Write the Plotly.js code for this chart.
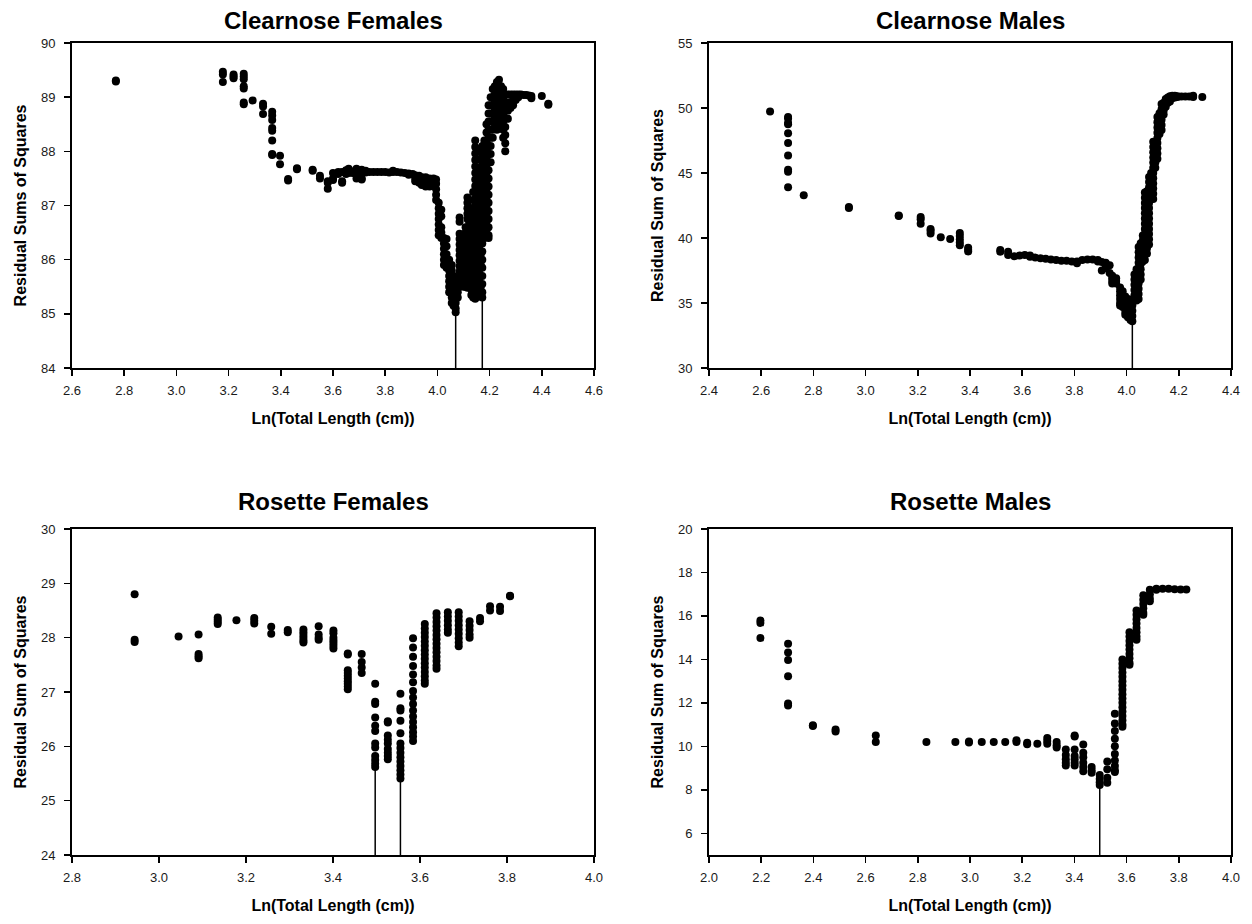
<!DOCTYPE html>
<html>
<head>
<meta charset="utf-8">
<script src="https://cdn.plot.ly/plotly-3.0.1.min.js"></script>
<style>
  html, body { margin: 0; padding: 0; background: #ffffff; }
  #chart { width: 1252px; height: 924px; }
</style>
</head>
<body>
<div id="chart"></div>
<script>
// ---------------- Panel titles and axis labels ----------------
const panelTitles = ["Clearnose Females", "Clearnose Males", "Rosette Females", "Rosette Males"];
const xAxisTitle = "Ln(Total Length (cm))";
const yAxisTitles = ["Residual Sums of Squares", "Residual Sum of Squares", "Residual Sum of Squares", "Residual Sum of Squares"];

// ---------------- Clearnose Females ----------------
const cfXRange = [2.6, 4.6];
const cfYRange = [84, 90];
const cfColX = [2.768, 3.178, 3.219, 3.258, 3.292, 3.332, 3.367, 3.397, 3.428, 3.462, 3.522, 3.55, 3.58, 3.60, 3.62, 3.635, 3.65, 3.66, 3.675, 3.69, 3.70, 3.71, 3.725, 3.74, 3.755, 3.77, 3.785, 3.80, 3.815, 3.83, 3.845, 3.86, 3.875, 3.89, 3.905, 3.915, 3.93, 3.94, 3.955, 3.97, 3.985, 3.995, 4.005, 4.015, 4.025, 4.035, 4.045, 4.055, 4.062, 4.07, 4.078, 4.085, 4.092, 4.1, 4.108, 4.115, 4.122, 4.13, 4.137, 4.145, 4.152, 4.16, 4.166, 4.172, 4.18, 4.188, 4.196, 4.204, 4.212, 4.22, 4.228, 4.236, 4.244, 4.252, 4.26, 4.27, 4.28, 4.29, 4.30, 4.31, 4.32, 4.33, 4.34, 4.35, 4.36, 4.40, 4.425];
const cfColY = [
  [89.31, 89.29],
  [89.47, 89.42, 89.28],
  [89.42, 89.38, 89.35],
  [89.43, 89.38, 89.33, 89.2, 89.16, 88.9, 88.87],
  [88.94],
  [88.88, 88.83, 88.69],
  [88.73, 88.66, 88.58, 88.43, 88.38, 88.2, 87.95, 87.93],
  [87.92, 87.76],
  [87.49, 87.46],
  [87.69, 87.67],
  [87.66, 87.64],
  [87.55, 87.5],
  [87.45, 87.42, 87.31],
  [87.6, 87.5, 87.47],
  [87.62, 87.58],
  [87.62, 87.45, 87.42],
  [87.65, 87.58],
  [87.68, 87.6],
  [87.63, 87.6],
  [87.68, 87.58, 87.5],
  [87.62, 87.55],
  [87.66, 87.5, 87.48],
  [87.64, 87.61],
  [87.62],
  [87.62],
  [87.62],
  [87.62],
  [87.62],
  [87.61],
  [87.64, 87.62],
  [87.62],
  [87.61],
  [87.6],
  [87.59, 87.57],
  [87.58],
  [87.56, 87.5, 87.45],
  [87.55, 87.48, 87.42],
  [87.52, 87.45, 87.38],
  [87.52, 87.45, 87.38, 87.35],
  [87.5, 87.42, 87.35],
  [87.5, 87.43, 87.36],
  [87.48, 87.4, 87.3, 87.2, 87.1],
  [87.05, 86.95, 86.85, 86.75, 86.65, 86.55, 86.45],
  [86.92, 86.8, 86.6, 86.5, 86.4],
  [86.4, 86.3, 86.2, 86.1, 86.0, 85.9],
  [86.38, 86.25, 86.1, 85.95, 85.85],
  [86.0, 85.9, 85.8, 85.7, 85.6, 85.5, 85.4],
  [85.9, 85.8, 85.7, 85.6, 85.5, 85.4, 85.3, 85.2],
  [85.7, 85.55, 85.4, 85.25, 85.15],
  [85.6, 85.45, 85.3, 85.2, 85.1, 85.03],
  [85.6, 85.5, 85.4, 85.3],
  [86.78, 86.7, 86.48, 86.38, 86.28, 86.18, 86.08, 85.98, 85.88, 85.78, 85.68, 85.58, 85.5],
  [86.4, 86.3, 86.2, 86.1, 86.0, 85.9, 85.8, 85.7, 85.6],
  [86.3, 86.2, 86.1, 86.0, 85.9, 85.8, 85.7, 85.6, 85.5],
  [86.6, 86.5, 86.4, 86.3, 86.2, 86.1, 86.0, 85.9, 85.8, 85.7, 85.6, 85.5],
  [87.15, 87.05, 86.95, 86.85, 86.75, 86.6, 86.45, 86.3, 86.15, 86.0, 85.85, 85.7, 85.55, 85.48],
  [86.9, 86.8, 86.7, 86.55, 86.4, 86.25, 86.1, 85.95, 85.8, 85.65, 85.5],
  [86.95, 86.8, 86.65, 86.5, 86.35, 86.2, 86.05, 85.9, 85.75, 85.6, 85.45, 85.35],
  [87.25, 87.1, 86.95, 86.8, 86.65, 86.5, 86.35, 86.2, 86.05, 85.9, 85.75, 85.6, 85.45, 85.3],
  [88.2, 88.08, 87.96, 87.84, 87.72, 87.6, 87.48, 87.36, 87.24, 87.12, 87.0, 86.88, 86.76, 86.64, 86.52, 86.4, 86.28, 86.16, 86.04, 85.92, 85.8, 85.68, 85.56, 85.44, 85.32, 85.28],
  [87.6, 87.45, 87.3, 87.15, 87.0, 86.85, 86.7, 86.55, 86.4, 86.25, 86.1, 85.95, 85.8, 85.65, 85.5, 85.35],
  [88.0, 87.85, 87.7, 87.55, 87.4, 87.25, 87.1, 86.95, 86.8, 86.65, 86.5, 86.35, 86.2, 86.05, 85.9, 85.75, 85.6, 85.45, 85.32],
  [87.5, 87.3, 87.1, 86.9, 86.7, 86.5, 86.3, 86.1, 85.9, 85.7, 85.5, 85.35],
  [88.1, 87.95, 87.8, 87.65, 87.5, 87.35, 87.2, 87.05, 86.9, 86.75, 86.6, 86.45, 86.3, 86.15, 86.0, 85.85, 85.7, 85.55, 85.4, 85.3],
  [88.2, 88.08, 87.96, 87.84, 87.72, 87.6, 87.48, 87.36, 87.24, 87.12, 87.0, 86.88, 86.76, 86.64, 86.52, 86.4],
  [88.5, 88.35, 88.2, 88.05, 87.9, 87.75, 87.6, 87.45, 87.3, 87.15, 87.0, 86.85, 86.7, 86.55, 86.42],
  [88.85, 88.7, 88.55, 88.4, 88.25, 88.1, 87.95, 87.8, 87.65, 87.5, 87.35, 87.2, 87.05, 86.9, 86.75, 86.6, 86.45, 86.4],
  [89.0, 88.85, 88.7, 88.55, 88.4, 88.25, 88.1, 87.95, 87.8],
  [89.15, 89.0, 88.85, 88.7, 88.55, 88.4, 88.25],
  [89.2, 89.05, 88.9, 88.75, 88.6, 88.45],
  [89.28, 89.13, 88.98, 88.83, 88.68, 88.53, 88.4],
  [89.32, 89.17, 89.02, 88.87, 88.72, 88.57, 88.45],
  [89.2, 89.05, 88.9, 88.75, 88.6, 88.45],
  [89.15, 89.0, 88.85, 88.7, 88.55, 88.4, 88.25],
  [89.05, 88.9, 88.75, 88.6, 88.45, 88.3, 88.15, 88.0],
  [89.05, 88.9, 88.75, 88.6],
  [89.05, 88.9, 88.8],
  [89.05, 88.95, 88.85],
  [89.05, 88.95],
  [89.05, 89.0],
  [89.05],
  [89.04],
  [89.04],
  [89.03],
  [89.02, 88.98],
  [89.02],
  [88.88, 88.86]
];
const cfMinX = [4.07, 4.172];
const cfMinY = [85.03, 85.3];

// ---------------- Clearnose Males ----------------
const cmXRange = [2.4, 4.4];
const cmYRange = [30, 55];
const cmColX = [2.634, 2.703, 2.763, 2.936, 3.127, 3.211, 3.249, 3.288, 3.324, 3.361, 3.393, 3.516, 3.546, 3.57, 3.59, 3.61, 3.63, 3.65, 3.67, 3.69, 3.71, 3.73, 3.75, 3.77, 3.79, 3.81, 3.83, 3.85, 3.87, 3.89, 3.905, 3.92, 3.935, 3.945, 3.96, 3.975, 3.985, 3.995, 4.005, 4.015, 4.022, 4.03, 4.038, 4.046, 4.054, 4.062, 4.07, 4.078, 4.086, 4.094, 4.102, 4.11, 4.118, 4.126, 4.134, 4.142, 4.15, 4.158, 4.166, 4.175, 4.185, 4.195, 4.21, 4.225, 4.24, 4.255, 4.29];
const cmColY = [
  [49.74],
  [49.3, 49.2, 48.85, 48.75, 48.05, 47.3, 46.35, 45.25, 45.1, 43.9],
  [43.28],
  [42.38, 42.3],
  [41.74, 41.7],
  [41.62, 41.45, 41.1],
  [40.7, 40.55, 40.35],
  [40.05],
  [39.92],
  [40.38, 40.15, 39.9, 39.65, 39.45],
  [39.25, 39.1, 38.97],
  [39.08, 38.95],
  [38.95, 38.7],
  [38.6],
  [38.65],
  [38.7],
  [38.65, 38.55],
  [38.5],
  [38.45],
  [38.4],
  [38.35],
  [38.3],
  [38.25],
  [38.25],
  [38.2],
  [38.2, 38.05],
  [38.3],
  [38.35],
  [38.35],
  [38.3, 38.2],
  [38.15, 37.5],
  [38.1, 37.9, 37.7],
  [37.9, 37.3],
  [37.1, 36.9, 36.7, 36.5],
  [36.9, 36.7, 36.5],
  [36.2, 35.9, 35.6, 35.3, 35.0, 34.8],
  [35.9, 35.6, 35.3, 35.0, 34.7],
  [35.5, 35.2, 34.9, 34.6, 34.3, 34.1],
  [35.3, 35.0, 34.7, 34.4, 34.1, 33.9],
  [35.1, 34.8, 34.5, 34.2, 33.9, 33.7],
  [35.2, 34.8, 34.4, 34.0, 33.6],
  [37.2, 36.8, 36.4, 36.0, 35.6, 35.2],
  [37.6, 37.2, 36.8, 36.4, 36.0, 35.6, 35.2],
  [39.3, 38.9, 38.5, 38.1, 37.7, 37.3, 36.9, 36.5, 36.1, 35.7, 35.3],
  [39.6, 39.2, 38.8, 38.4, 38.0, 37.6, 37.2, 36.8],
  [40.2, 39.8, 39.4, 39.0, 38.6, 38.2],
  [43.5, 43.1, 42.7, 42.3, 41.9, 41.5, 41.1, 40.7, 40.3, 39.9, 39.5, 39.1, 38.7, 38.3],
  [43.6, 43.2, 42.8, 42.4, 42.0, 41.6, 41.2, 40.8, 40.4, 40.0, 39.6, 39.2, 38.8],
  [44.7, 44.3, 43.9, 43.5, 43.1, 42.7, 42.3, 41.9, 41.5, 41.1, 40.7, 40.3, 39.9, 39.5],
  [45.0, 44.6, 44.2, 43.8, 43.4, 43.0],
  [47.4, 47.0, 46.6, 46.2, 45.8, 45.4, 45.0, 44.6, 44.2, 43.8, 43.4, 43.0],
  [47.4, 47.0, 46.6, 46.2, 45.8, 45.4],
  [49.3, 48.9, 48.5, 48.1, 47.7, 47.3, 46.9, 46.5, 46.1],
  [49.6, 49.2, 48.8, 48.4, 48.0],
  [50.3, 49.9, 49.5, 49.1, 48.7, 48.3],
  [50.4, 50.1, 49.8, 49.5],
  [50.7, 50.4, 50.1],
  [50.8, 50.6, 50.4],
  [50.9, 50.7, 50.5],
  [50.95, 50.75],
  [50.95, 50.8],
  [50.9, 50.85],
  [50.88],
  [50.88],
  [50.88],
  [50.95, 50.85],
  [50.85]
];
const cmMinX = [4.022];
const cmMinY = [33.6];

// ---------------- Rosette Females ----------------
const rfXRange = [2.8, 4.0];
const rfYRange = [24, 30];
const rfColX = [2.944, 3.045, 3.091, 3.135, 3.178, 3.219, 3.258, 3.296, 3.332, 3.367, 3.401, 3.434, 3.466, 3.497, 3.526, 3.555, 3.584, 3.611, 3.638, 3.664, 3.689, 3.714, 3.738, 3.761, 3.784, 3.807];
const rfColY = [
  [28.8, 27.96, 27.92],
  [28.02],
  [28.06, 27.7, 27.66, 27.62],
  [28.37, 28.33, 28.29, 28.25],
  [28.32],
  [28.36, 28.31, 28.26],
  [28.2, 28.07],
  [28.14, 28.1],
  [28.15, 28.1, 28.05, 28.0, 27.95, 27.91],
  [28.21, 28.06, 28.0, 27.96],
  [28.13, 28.08, 28.0, 27.95, 27.9, 27.85, 27.8],
  [27.71, 27.69, 27.4, 27.35, 27.3, 27.25, 27.2, 27.15, 27.1, 27.05],
  [27.7, 27.55, 27.45, 27.35],
  [27.15, 26.82, 26.78, 26.53, 26.38, 26.28, 26.05, 25.98, 25.82, 25.75, 25.68, 25.62],
  [26.46, 26.44, 26.2, 26.12, 26.05, 25.95, 25.88, 25.82, 25.76],
  [26.97, 26.7, 26.66, 26.47, 26.24, 26.05, 25.97, 25.88, 25.8, 25.72, 25.64, 25.56, 25.48, 25.41],
  [27.99, 27.82, 27.65, 27.48, 27.32, 27.18, 27.02, 26.9, 26.78, 26.66, 26.55, 26.45, 26.35, 26.26, 26.18, 26.1],
  [28.25, 28.17, 28.09, 28.01, 27.93, 27.85, 27.77, 27.69, 27.61, 27.53, 27.45, 27.37, 27.29, 27.21, 27.15],
  [28.45, 28.37, 28.29, 28.21, 28.13, 28.05, 27.97, 27.89, 27.81, 27.73, 27.65, 27.57, 27.49, 27.43],
  [28.47, 28.39, 28.31, 28.23, 28.15, 28.09],
  [28.47, 28.39, 28.31, 28.23, 28.15, 28.07, 27.99, 27.91, 27.84],
  [28.3, 28.22, 28.14, 28.06, 28.0],
  [28.36, 28.3],
  [28.58, 28.5],
  [28.57, 28.49],
  [28.77, 28.76]
];
const rfMinX = [3.497, 3.555];
const rfMinY = [25.62, 25.41];

// ---------------- Rosette Males ----------------
const rmXRange = [2.0, 4.0];
const rmYRange = [5, 20];
const rmColX = [2.197, 2.303, 2.398, 2.485, 2.639, 2.833, 2.944, 2.996, 3.045, 3.091, 3.135, 3.178, 3.219, 3.258, 3.296, 3.332, 3.367, 3.401, 3.434, 3.466, 3.497, 3.526, 3.555, 3.584, 3.611, 3.638, 3.664, 3.689, 3.714, 3.738, 3.761, 3.784, 3.807, 3.829];
const rmColY = [
  [15.79, 15.68, 14.98],
  [14.72, 14.32, 13.97, 13.23, 11.97, 11.88],
  [10.97, 10.93],
  [10.78, 10.68],
  [10.5, 10.2],
  [10.2],
  [10.2],
  [10.22, 10.18],
  [10.2],
  [10.2],
  [10.2],
  [10.28, 10.2],
  [10.16, 10.1],
  [10.12],
  [10.38, 10.25, 10.12],
  [10.2, 10.05, 9.95],
  [9.85, 9.6, 9.4, 9.25, 9.12],
  [10.5, 10.45, 9.85, 9.55, 9.4, 9.25, 9.12],
  [10.08, 9.7, 9.5, 9.25, 9.05, 8.85],
  [9.05, 8.9, 8.78],
  [8.68, 8.5, 8.35, 8.22],
  [9.3, 8.95, 8.55, 8.32],
  [11.5, 11.05, 10.7, 10.35, 10.0, 9.65, 9.35, 9.1, 8.9, 8.82],
  [14.0, 13.8, 13.6, 13.4, 13.2, 13.0, 12.8, 12.6, 12.4, 12.2, 12.0, 11.8, 11.6, 11.4, 11.2, 11.0, 10.9],
  [15.25, 15.05, 14.85, 14.65, 14.45, 14.25, 14.05, 13.85, 13.75],
  [16.25, 16.05, 15.85, 15.65, 15.45, 15.25, 15.05, 14.9],
  [16.95, 16.75, 16.55, 16.35, 16.15, 16.05],
  [17.2, 17.0, 16.8, 16.68],
  [17.25, 17.2],
  [17.25],
  [17.25],
  [17.23],
  [17.22],
  [17.22]
];
const rmMinX = [3.497];
const rmMinY = [8.22];

// ---------------- Build traces ----------------
function flatten(colX, colY) {
  const x = [], y = [];
  colX.forEach((cx, i) => colY[i].forEach(v => { x.push(cx); y.push(v); }));
  return { x, y };
}
function dropLines(minX, minY, yRange) {
  const x = [], y = [];
  minX.forEach((mx, i) => { x.push(mx, mx, null); y.push(yRange[0], minY[i], null); });
  return { x, y };
}

const panels = [
  { colX: cfColX, colY: cfColY, minX: cfMinX, minY: cfMinY, xr: cfXRange, yr: cfYRange, dy: 1 },
  { colX: cmColX, colY: cmColY, minX: cmMinX, minY: cmMinY, xr: cmXRange, yr: cmYRange, dy: 5 },
  { colX: rfColX, colY: rfColY, minX: rfMinX, minY: rfMinY, xr: rfXRange, yr: rfYRange, dy: 1 },
  { colX: rmColX, colY: rmColY, minX: rmMinX, minY: rmMinY, xr: rmXRange, yr: rmYRange, dy: 2 }
];

const FONT = "Arial, 'Liberation Sans', Helvetica, sans-serif";
const traces = [];
const layout = {
  width: 1252, height: 924,
  margin: { l: 0, r: 0, t: 0, b: 0 },
  paper_bgcolor: "#ffffff", plot_bgcolor: "#ffffff",
  showlegend: false,
  font: { family: FONT, color: "#000000" },
  annotations: []
};

const xDomains = [[72 / 1252, 594 / 1252], [709 / 1252, 1231 / 1252]];
const yDomains = [[1 - 368 / 924, 1 - 43 / 924], [1 - 855 / 924, 1 - 529 / 924]];

panels.forEach((p, i) => {
  const n = i + 1;
  const xa = n === 1 ? "x" : "x" + n;
  const ya = n === 1 ? "y" : "y" + n;
  const pts = flatten(p.colX, p.colY);
  const ln = dropLines(p.minX, p.minY, p.yr);
  traces.push({
    type: "scatter", mode: "lines", x: ln.x, y: ln.y, xaxis: xa, yaxis: ya,
    line: { color: "#000000", width: 1.5 }, hoverinfo: "skip", connectgaps: false
  });
  traces.push({
    type: "scatter", mode: "markers", x: pts.x, y: pts.y, xaxis: xa, yaxis: ya,
    marker: { color: "#000000", size: 8, line: { width: 0 } }
  });
  const col = i % 2, row = Math.floor(i / 2);
  const axCommon = {
    showgrid: false, zeroline: false, showline: true, linecolor: "#000000", linewidth: 2,
    mirror: true, ticks: "outside", ticklen: 6, tickwidth: 1.5, tickcolor: "#000000",
    tickfont: { family: FONT, size: 13, color: "#1a1a1a" }
  };
  layout["xaxis" + (n === 1 ? "" : n)] = Object.assign({}, axCommon, {
    domain: xDomains[col], anchor: ya, range: p.xr, dtick: 0.2, tick0: 0, tickformat: ".1f",
    ticklabelstandoff: 3,
    title: { text: "<b>" + xAxisTitle + "</b>", font: { family: FONT, size: 16, color: "#000000" }, standoff: 16 }
  });
  layout["yaxis" + (n === 1 ? "" : n)] = Object.assign({}, axCommon, {
    domain: yDomains[row], anchor: xa, range: p.yr, dtick: p.dy, tick0: 0,
    ticklabelstandoff: 6,
    title: { text: "<b>" + yAxisTitles[i] + "</b>", font: { family: FONT, size: 16, color: "#000000" }, standoff: 10 }
  });
  layout.annotations.push({
    text: "<b>" + panelTitles[i] + "</b>", showarrow: false,
    xref: xa + " domain", yref: ya + " domain", x: 0.5, y: row === 0 ? 1.07 : 1.083,
    xanchor: "center", yanchor: "middle",
    font: { family: FONT, size: 24, color: "#000000" }
  });
});

Plotly.newPlot("chart", traces, layout, { staticPlot: true, displayModeBar: false });
</script>
</body>
</html>
